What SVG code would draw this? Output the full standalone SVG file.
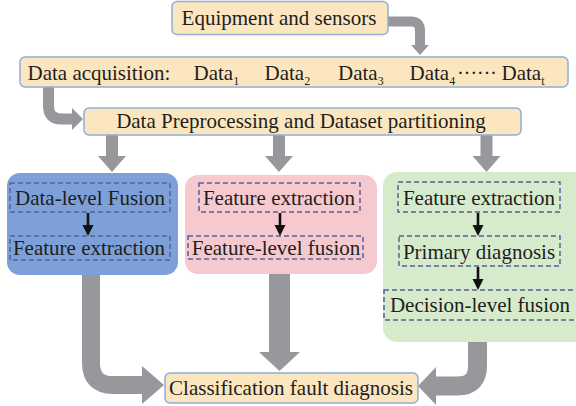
<svg xmlns="http://www.w3.org/2000/svg" width="576" height="406" viewBox="0 0 576 406" font-family="'Liberation Serif', 'DejaVu Serif', serif">
<style>
text{font-family:"Liberation Serif","DejaVu Serif",serif;font-size:21px;fill:#1e1e1e}
.c{text-anchor:middle}
.sub{font-size:12px}
.box{fill:#fce6bf;stroke:#8eafd9;stroke-width:1.5}
.dash{fill:none;stroke:#55609f;stroke-width:1.5;stroke-dasharray:5 3}
.pipe{fill:none;stroke:#98989c}
.head{fill:#98989c}
.blk{stroke:#111;stroke-width:2.6;fill:none}
.bh{fill:#111}
</style>
<rect width="576" height="406" fill="#fff"/>
<g id="connectors">
  <path class="pipe" stroke-width="10" d="M388 21.5 H411 Q420 21.5 420 30.5 V46"/>
  <polygon class="head" points="411,45 429,45 420,55"/>
  <path class="pipe" stroke-width="11" d="M48.5 87 V106 Q48.5 119 61.5 119 H73"/>
  <polygon class="head" points="72,108 72,130 83,119"/>
  <rect class="head" x="106" y="135" width="12" height="22"/>
  <polygon class="head" points="98,156 126,156 112,172"/>
  <rect class="head" x="273" y="135" width="12" height="22"/>
  <polygon class="head" points="265,156 293,156 279,172"/>
  <rect class="head" x="480.5" y="135" width="12" height="22"/>
  <polygon class="head" points="472.5,156 500.5,156 486.5,172"/>
  <path class="pipe" stroke-width="18" d="M91 274 V363 Q91 385 113 385 H143"/>
  <polygon class="head" points="142,366 142,404 164,385"/>
  <rect class="head" x="269" y="270" width="21" height="83"/>
  <polygon class="head" points="259,352 300,352 279.5,371"/>
  <path class="pipe" stroke-width="19" d="M477.5 342 V366 Q477.5 386 457.5 386 H435"/>
  <polygon class="head" points="436,367 436,405 418,386"/>
</g>
<g id="equipment">
  <rect class="box" x="172" y="1.5" width="216" height="33" rx="5"/>
  <text class="c" x="279" y="25">Equipment and sensors</text>
</g>
<g id="acquisition">
  <rect class="box" x="20" y="57" width="548" height="30" rx="5"/>
  <text x="27.5" y="80">Data acquisition:</text>
  <text x="193.5" y="80">Data<tspan class="sub" dy="5">1</tspan></text>
  <text x="264.5" y="80">Data<tspan class="sub" dy="5">2</tspan></text>
  <text x="338" y="80">Data<tspan class="sub" dy="5">3</tspan></text>
  <text x="409.5" y="80">Data<tspan class="sub" dy="5">4</tspan></text>
  <text x="457" y="80" textLength="40" lengthAdjust="spacing">······</text>
  <text x="501.5" y="80">Data<tspan class="sub" dy="5">t</tspan></text>
</g>
<g id="preprocessing">
  <rect class="box" x="84" y="108" width="437" height="27" rx="5"/>
  <text class="c" x="301" y="128">Data Preprocessing and Dataset partitioning</text>
</g>
<g id="data-level">
  <rect x="7" y="173" width="171" height="102" rx="13" fill="#7da0d8"/>
  <rect class="dash" x="10" y="183" width="160" height="29"/>
  <text class="c" x="90" y="205">Data-level Fusion</text>
  <rect class="dash" x="10" y="236" width="160" height="24"/>
  <text class="c" x="89" y="255">Feature extraction</text>
</g>
<g id="feature-level">
  <rect x="185" y="175" width="192" height="99" rx="13" fill="#f5c9cd"/>
  <rect class="dash" x="199" y="183" width="161" height="29"/>
  <text class="c" x="279" y="205">Feature extraction</text>
  <rect class="dash" x="188" y="236" width="175" height="23"/>
  <text class="c" x="276" y="255">Feature-level fusion</text>
</g>
<g id="decision-level">
  <rect x="383" y="172" width="210" height="170" rx="14" fill="#d6eacc"/>
  <rect class="dash" x="398" y="182" width="162" height="30"/>
  <text class="c" x="479" y="205">Feature extraction</text>
  <rect class="dash" x="399" y="236" width="161" height="30"/>
  <text class="c" x="479" y="259">Primary diagnosis</text>
  <rect class="dash" x="384" y="290" width="200" height="30"/>
  <text class="c" x="480" y="312">Decision-level fusion</text>
</g>
<g id="classification">
  <rect class="box" x="165" y="373" width="253" height="30" rx="5"/>
  <text class="c" x="291" y="395">Classification fault diagnosis</text>
</g>
<g id="inner-connectors">
  <line class="blk" x1="88" y1="213" x2="88" y2="227"/>
  <polygon class="bh" points="82.5,225 93.5,225 88,236"/>
  <line class="blk" x1="280" y1="213" x2="280" y2="227"/>
  <polygon class="bh" points="274.5,225 285.5,225 280,236"/>
  <line class="blk" x1="478" y1="213" x2="478" y2="227"/>
  <polygon class="bh" points="472.5,225 483.5,225 478,236"/>
  <line class="blk" x1="478" y1="267" x2="478" y2="281"/>
  <polygon class="bh" points="472.5,279 483.5,279 478,290"/>
</g>
</svg>
